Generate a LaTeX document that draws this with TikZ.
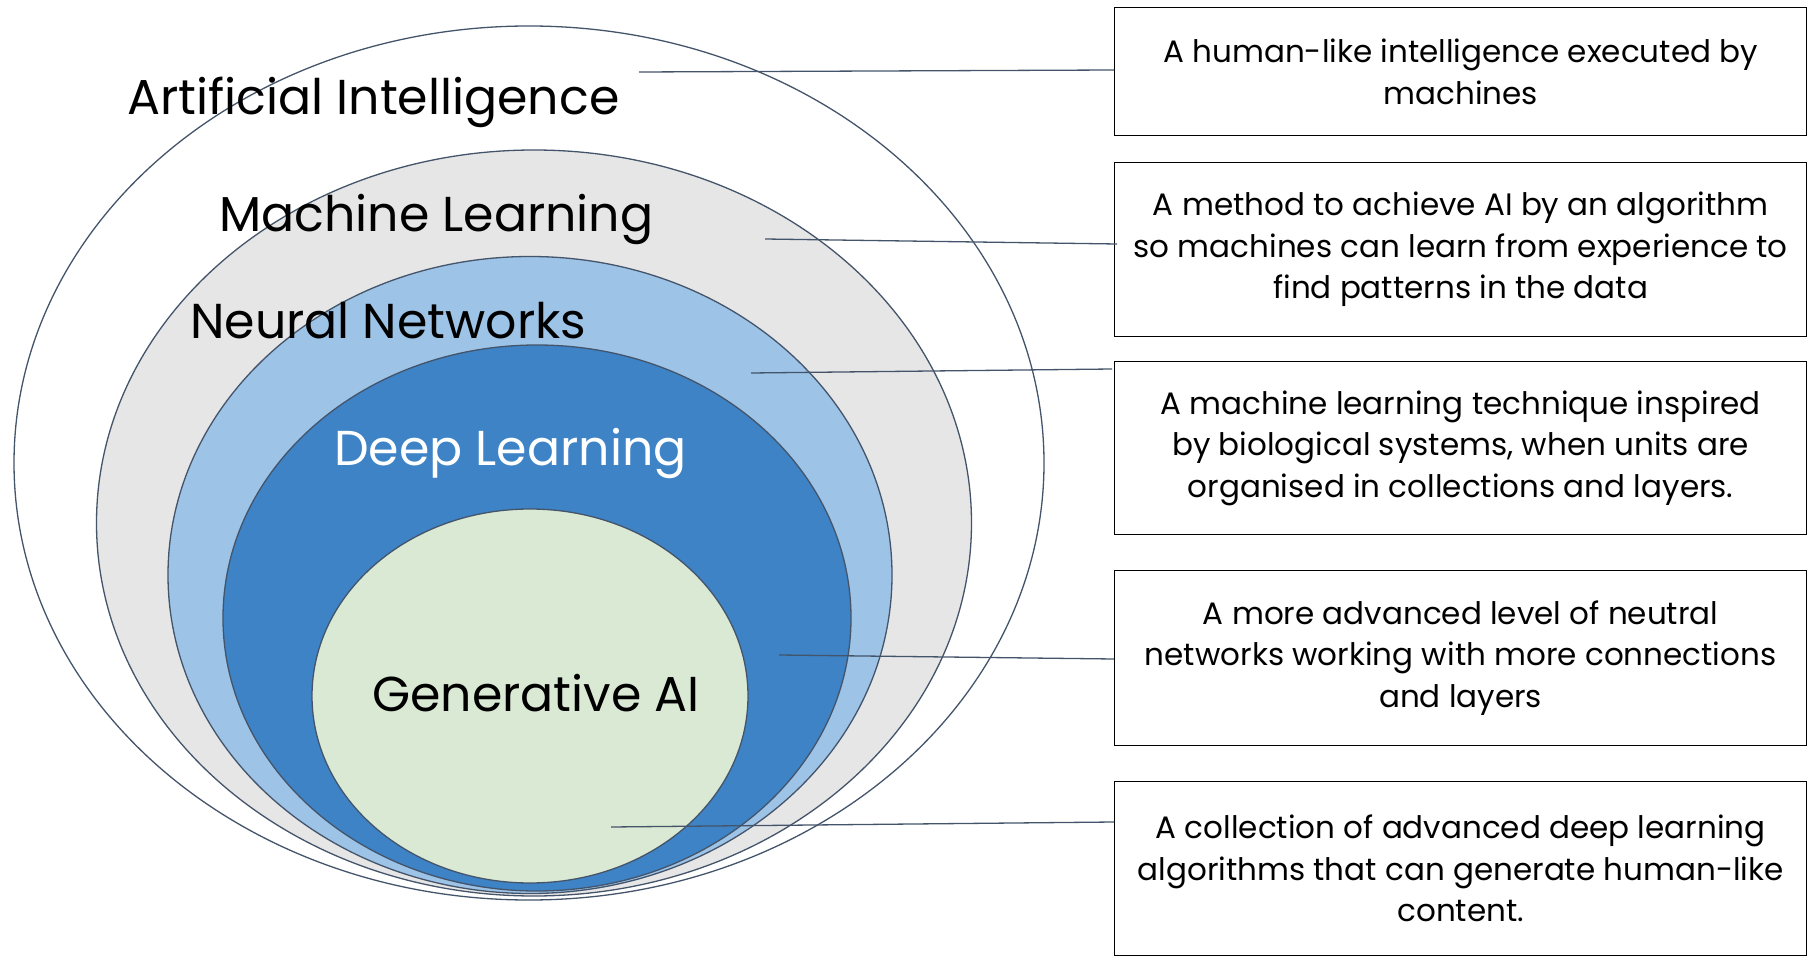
\documentclass[tikz,border=0pt]{standalone}
\usepackage{fontspec}
\setmainfont{Poppins}
\usetikzlibrary{shapes.geometric}
\definecolor{edge}{HTML}{44546A}
\definecolor{mlgray}{HTML}{E6E6E6}
\definecolor{nnblue}{HTML}{9DC3E6}
\definecolor{dlblue}{HTML}{3D83C6}
\definecolor{gengreen}{HTML}{D9E9D3}
\tikzset{
  ring/.style={ellipse, draw=edge, line width=1.3pt, inner sep=0pt},
  head/.style={font=\fontsize{49}{56}\selectfont, inner sep=0pt, anchor=base west},
  desc/.style={draw=black, line width=1.3pt, minimum width=692pt, align=center, inner sep=0pt, font=\fontsize{31}{41.5}\selectfont, anchor=north west},
  link/.style={draw=edge, line width=1.3pt}
}
\begin{document}
\begin{tikzpicture}[x=1pt,y=-1pt]
\useasboundingbox (0,0) rectangle (1810,957);
% rings
\node[ring, fill=white, minimum width=1030pt, minimum height=874pt] (ai) at (529,463) {};
\node[ring, fill=mlgray, minimum width=875pt, minimum height=746pt] (ml) at (534,523) {};
\node[ring, fill=nnblue, minimum width=724pt, minimum height=637pt] (nn) at (530,575) {};
\node[ring, fill=dlblue, minimum width=628pt, minimum height=546pt] (dl) at (537,618) {};
\node[ring, fill=gengreen, minimum width=436pt, minimum height=374pt] (gen) at (530,696) {};
% labels
\node[head] (lai) at (127,115) {Artificial Intelligence};
\node[head] (lml) at (219,232) {Machine Learning};
\node[head] (lnn) at (190,339) {Neural Networks};
\node[head, text=white] (ldl) at (334,465) {Deep Learning};
\node[head] (lgen) at (372,711) {Generative AI};
% boxes
\node[desc, minimum height=128pt] (b1) at (1114,7) {A human-like intelligence executed by\\machines};
\node[desc, minimum height=174pt] (b2) at (1114,162) {A method to achieve AI by an algorithm\\so machines can learn from experience to\\find patterns in the data};
\node[desc, minimum height=173pt] (b3) at (1114,361) {A machine learning technique inspired\\by biological systems, when units are\\organised in collections and layers.};
\node[desc, minimum height=175pt] (b4) at (1114,570) {A more advanced level of neutral\\networks working with more connections\\and layers};
\node[desc, minimum height=174pt] (b5) at (1114,781) {A collection of advanced deep learning\\algorithms that can generate human-like\\content.};
% connectors
\coordinate (s1) at (639,72);
\coordinate (e1) at (1114,70);
\coordinate (s2) at (765,239);
\coordinate (e2) at (1117,244);
\coordinate (s3) at (751,373);
\coordinate (e3) at (1112,369);
\coordinate (s4) at (779,655);
\coordinate (e4) at (1114,659);
\coordinate (s5) at (611,827);
\coordinate (e5) at (1114,822);
\draw[link] (s1) -- (e1);
\draw[link] (s2) -- (e2);
\draw[link] (s3) -- (e3);
\draw[link] (s4) -- (e4);
\draw[link] (s5) -- (e5);
\end{tikzpicture}
\end{document}
